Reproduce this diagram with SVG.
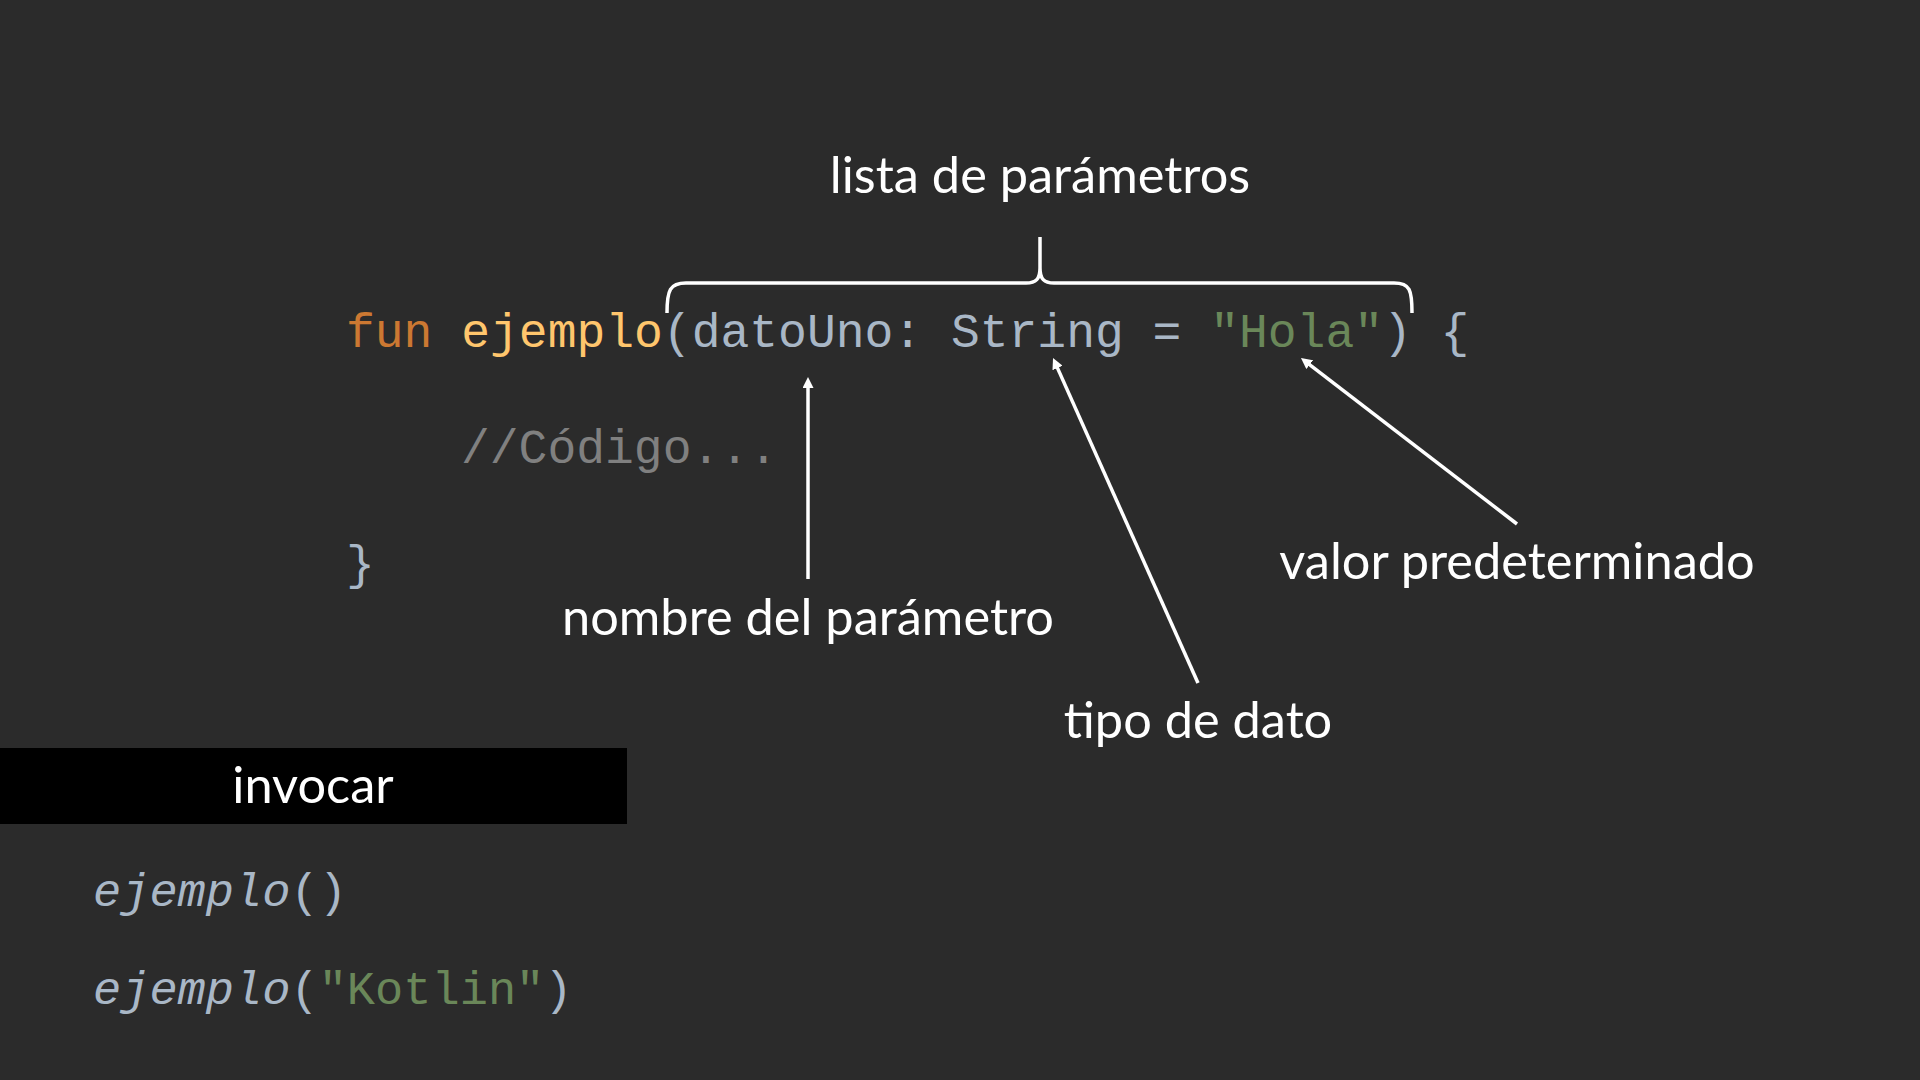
<svg xmlns="http://www.w3.org/2000/svg" width="1920" height="1080" viewBox="0 0 1920 1080">
  <style>
    .code { font-family: "Liberation Mono", "Courier New", monospace; font-size: 48px; }
    .call { font-family: "Liberation Mono", "Courier New", monospace; font-size: 47px; }
    .label { font-family: Lato, "Noto Sans", sans-serif; font-size: 50.5px; fill: #ffffff; text-anchor: middle; }
    .kw { fill: #CC7832; }
    .fn { fill: #FFC66D; }
    .plain { fill: #A9B7C6; }
    .str { fill: #6A8759; }
    .cmt { fill: #808080; }
    .conn { stroke: #ffffff; stroke-width: 3.5; fill: none; }
  </style>
  <defs>
    <marker id="ah" markerUnits="userSpaceOnUse" viewBox="0 0 11 11" markerWidth="11" markerHeight="11" refX="1" refY="5.5" orient="auto">
      <path d="M0,0 L11,5.5 L0,11 z" fill="#ffffff"/>
    </marker>
  </defs>
  <rect x="0" y="0" width="1920" height="1080" fill="#2B2B2B"/>

  <g id="code">
    <text class="code" x="346" y="347" xml:space="preserve"><tspan class="kw">fun </tspan><tspan class="fn">ejemplo</tspan><tspan class="plain">(datoUno: String = </tspan><tspan class="str">"Hola"</tspan><tspan class="plain">) {</tspan></text>
    <text class="code cmt" x="461" y="463">//Código...</text>
    <text class="code plain" x="346" y="579">}</text>
  </g>

  <g id="label-lista">
    <text class="label" x="1040" y="193">lista de parámetros</text>
  </g>
  <g id="label-nombre">
    <text class="label" x="808" y="635">nombre del parámetro</text>
  </g>
  <g id="label-tipo">
    <text class="label" x="1198" y="738">tipo de dato</text>
  </g>
  <g id="label-valor">
    <text class="label" x="1517" y="579">valor predeterminado</text>
  </g>

  <g id="invocar">
    <rect x="0" y="748" width="627" height="76" fill="#000000"/>
    <text class="label" x="313" y="803">invocar</text>
  </g>

  <g id="calls">
    <text class="call" x="93" y="906"><tspan class="plain" font-style="italic">ejemplo</tspan><tspan class="plain">()</tspan></text>
    <text class="call" x="93" y="1004"><tspan class="plain" font-style="italic">ejemplo</tspan><tspan class="plain">(</tspan><tspan class="str">"Kotlin"</tspan><tspan class="plain">)</tspan></text>
  </g>

  <g id="connectors">
    <path class="conn" d="M667,313 C667,290 670,283 686,283 L1026,283 C1036,283 1040,279 1040,268 L1040,237 M1040,268 C1040,279 1044,283 1054,283 L1394,283 C1410,283 1412,290 1412,313"/>
    <line class="conn" x1="808" y1="579" x2="808" y2="387" marker-end="url(#ah)"/>
    <line class="conn" x1="1198" y1="683" x2="1057.1" y2="367.1" marker-end="url(#ah)"/>
    <line class="conn" x1="1517" y1="524" x2="1308.9" y2="364.1" marker-end="url(#ah)"/>
  </g>
</svg>
